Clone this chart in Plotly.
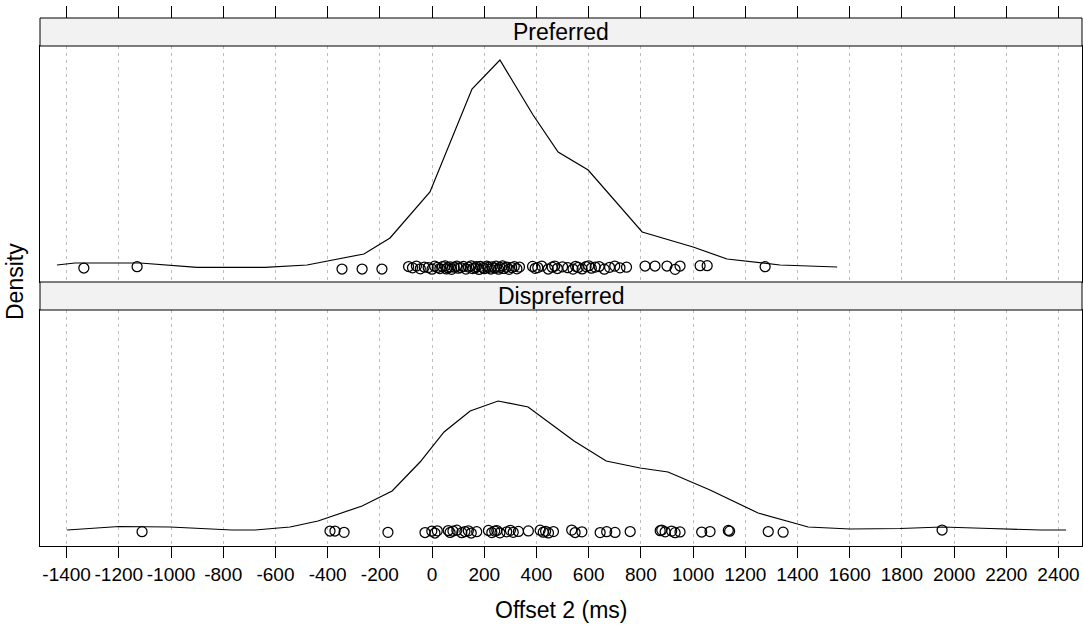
import plotly.graph_objects as go

# ---------------- data ----------------
tick_vals = [-1400, -1200, -1000, -800, -600, -400, -200, 0, 200, 400, 600,
             800, 1000, 1200, 1400, 1600, 1800, 2000, 2200, 2400]
tick_text = [str(v) for v in tick_vals]

panel_names = ["Preferred", "Dispreferred"]

# density curves (x in ms, density in units of 1e-5 per ms)
pref_curve_x = [-1437, -1368, -1119, -900, -640, -479, -261, -161, -8, 153,
                260, 387, 483, 598, 805, 1000, 1130, 1333, 1552]
pref_curve_y = [3, 5, 5, 0.7, 0.7, 3, 14, 30, 76, 179,
                208, 153, 116, 98, 36, 21, 9, 3, 1]

disp_curve_x = [-1398, -1199, -1004, -766, -678, -544, -437, -268, -153, -46,
                46, 146, 253, 368, 544, 667, 797, 904, 1065, 1249,
                1441, 1602, 1793, 1954, 2138, 2330, 2429]
disp_curve_y = [2, 5.5, 5, 2, 2, 5, 11, 26, 41, 70,
                100, 121, 131, 125, 91, 71, 64, 60, 42, 19,
                5, 3, 3.5, 5, 3.5, 2, 2]

# observed offsets (ms) with small vertical jitter
pref_points_x = [-1334, -1130, -345, -268, -192, -90, -75, -60, -45, -30,
                 -15, 0, 10, 20, 30, 40, 50, 55, 60, 70,
                 75, 85, 95, 100, 110, 120, 130, 140, 150, 155,
                 165, 170, 180, 185, 195, 200, 210, 215, 225, 230,
                 240, 245, 255, 260, 270, 275, 285, 295, 305, 315,
                 325, 335, 385, 395, 405, 420, 445, 460, 470, 480,
                 500, 520, 540, 550, 560, 575, 590, 600, 610, 625,
                 640, 660, 680, 700, 720, 745, 816, 854, 900, 931,
                 950, 1027, 1054, 1276]
pref_points_j = [0.0, 1.3, -1.0, -1.0, -1.0, 1.5, 0.2, 2.0, -0.8, 1.0,
                 0.4, -1.2, 1.8, 0.6, -0.5, 1.4, 2.1, -0.9, 0.3, 1.1,
                 -1.3, 0.8, 1.9, -0.2, 0.5, 1.6, -1.1, 0.9, 2.2, -0.6,
                 0.1, 1.3, -1.4, 1.7, 0.4, -0.7, 2.0, 0.6, -1.0, 1.2,
                 0.0, 1.8, -1.2, 0.7, 2.1, -0.4, 1.0, -1.3, 0.5, 1.5,
                 -0.8, 0.9, 1.6, -0.3, 0.4, 1.9, -1.0, 0.8, 2.0, -0.5,
                 1.2, 0.3, -1.1, 1.7, 0.6, -0.9, 1.4, 2.2, -0.2, 0.9,
                 1.5, -1.2, 0.7, 1.9, 0.2, 0.8, 2.0, 2.0, 2.0, -1.3,
                 2.0, 2.3, 2.3, 1.3]

disp_points_x = [-1111, -391, -372, -337, -169, -27, -1, 11, 20, 62,
                 69, 80, 95, 114, 126, 139, 150, 171, 216, 229,
                 240, 248, 260, 286, 300, 311, 331, 369, 414, 426,
                 435, 446, 465, 535, 548, 574, 644, 669, 701, 759,
                 874, 880, 893, 918, 931, 950, 1033, 1065, 1135, 1140,
                 1288, 1345, 1954]
disp_points_j = [0.3, 1.0, 1.0, -0.3, -0.3, -0.5, 0.8, -1.0, 1.2, 1.5,
                 -0.4, 0.9, 1.8, -0.7, 0.5, 1.2, -1.0, 0.3, 1.6, -0.6,
                 0.9, 1.4, -0.8, 0.2, 1.7, -0.3, 0.6, 1.1, 1.8, -0.2,
                 0.7, -0.9, 0.4, 1.9, -0.5, 0.2, -0.6, 0.3, -0.4, 0.5,
                 1.3, 1.9, 0.2, 0.9, -0.7, 0.1, 0.0, 0.4, 1.6, 0.8,
                 0.5, -0.2, 2.0]

assert len(pref_points_x) == len(pref_points_j)
assert len(disp_points_x) == len(disp_points_j)

# ---------------- layout constants ----------------
W, H = 1083, 628
FONT = "Liberation Sans, Arial, sans-serif"
x_range = [-1502, 2490]
y_range = [-14, 222]

def px_x(p):
    return p / W

def px_y(p):
    return 1 - p / H

fig = go.Figure()

line_style = dict(color="black", width=1.2)
marker_style = dict(symbol="circle-open", size=10, color="black",
                    line=dict(color="black", width=1.25))

fig.add_trace(go.Scatter(x=pref_curve_x, y=pref_curve_y, mode="lines",
                         line=line_style, xaxis="x", yaxis="y", showlegend=False))
fig.add_trace(go.Scatter(x=pref_points_x, y=pref_points_j, mode="markers",
                         marker=marker_style, xaxis="x", yaxis="y", showlegend=False))
fig.add_trace(go.Scatter(x=disp_curve_x, y=disp_curve_y, mode="lines",
                         line=line_style, xaxis="x2", yaxis="y2", showlegend=False))
fig.add_trace(go.Scatter(x=disp_points_x, y=disp_points_j, mode="markers",
                         marker=marker_style, xaxis="x2", yaxis="y2", showlegend=False))
# invisible trace to activate top tick axis
fig.add_trace(go.Scatter(x=[x_range[0]], y=[0], mode="markers", opacity=0,
                         xaxis="x3", yaxis="y", showlegend=False, hoverinfo="skip"))

xdom = [px_x(40), px_x(1082)]
grid_common = dict(range=x_range, tickvals=tick_vals, showgrid=True,
                   gridcolor="#BEBEBE", griddash="3px,4px", gridwidth=1,
                   zeroline=False, showline=True, mirror=True,
                   linecolor="black", linewidth=1, domain=xdom)

fig.update_layout(
    width=W, height=H,
    margin=dict(l=0, r=0, t=0, b=0),
    paper_bgcolor="white", plot_bgcolor="white",
    font=dict(family=FONT, color="black"),
    xaxis=dict(anchor="y", showticklabels=False, ticks="", **grid_common),
    xaxis2=dict(anchor="y2", showticklabels=True, ticks="outside", ticklen=11,
                tickcolor="black", tickwidth=1, ticktext=tick_text, tickangle=0,
                tickfont=dict(size=19, family=FONT), **grid_common),
    xaxis3=dict(overlaying="x", anchor="free", position=px_y(18), side="top",
                range=x_range, tickvals=tick_vals, ticks="outside", ticklen=12,
                tickcolor="black", tickwidth=1, showticklabels=False,
                showgrid=False, showline=False, zeroline=False),
    yaxis=dict(domain=[px_y(282), px_y(46)], range=y_range, anchor="x",
               showticklabels=False, ticks="", showgrid=False, zeroline=False,
               showline=True, mirror=True, linecolor="black", linewidth=1),
    yaxis2=dict(domain=[px_y(546), px_y(310)], range=y_range, anchor="x2",
                showticklabels=False, ticks="", showgrid=False, zeroline=False,
                showline=True, mirror=True, linecolor="black", linewidth=1),
)

# strips
strip_spans = [(18, 46), (282, 310)]
for name, (top, bot) in zip(panel_names, strip_spans):
    fig.add_shape(type="rect", xref="paper", yref="paper",
                  x0=xdom[0], x1=xdom[1], y0=px_y(bot), y1=px_y(top),
                  fillcolor="#F2F2F2", line=dict(color="black", width=1))
    fig.add_annotation(x=(xdom[0] + xdom[1]) / 2, y=px_y((top + bot) / 2),
                       xref="paper", yref="paper", text=name, showarrow=False,
                       xanchor="center", yanchor="middle",
                       font=dict(size=23, family=FONT, color="black"))

fig.add_annotation(x=px_x(15), y=px_y(282), xref="paper", yref="paper",
                   text="Density", textangle=-90, showarrow=False,
                   xanchor="center", yanchor="middle",
                   font=dict(size=23, family=FONT, color="black"))
fig.add_annotation(x=(xdom[0] + xdom[1]) / 2, y=px_y(610), xref="paper", yref="paper",
                   text="Offset 2 (ms)", showarrow=False,
                   xanchor="center", yanchor="middle",
                   font=dict(size=23, family=FONT, color="black"))

fig.write_html("out.html",
               config={"displayModeBar": False},
               post_script="document.body.style.margin='0';document.body.style.padding='0';")
